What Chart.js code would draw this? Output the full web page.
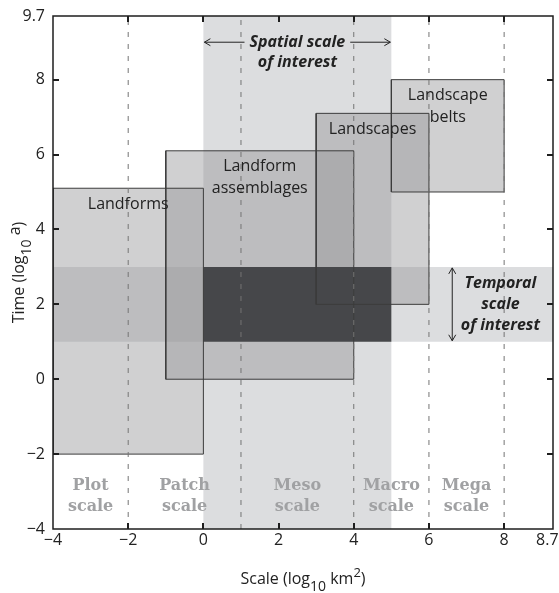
<!DOCTYPE html>
<html>
<head>
<meta charset="utf-8">
<script src="https://cdn.jsdelivr.net/npm/chart.js@4.4.1/dist/chart.umd.min.js"></script>
<style>
  html, body { margin: 0; padding: 0; background: #fff; }
  #chart { display: block; }
</style>
</head>
<body>
<canvas id="chart" width="559" height="593"></canvas>
<script>
// axis ranges and ticks
const xRange = [-4, 9.3];
const yRange = [-4, 9.7];
const xTickValues = [-4, -2, 0, 2, 4, 6, 8, 9.15];
const xTickLabels = ['−4', '−2', '0', '2', '4', '6', '8', '8.7'];
const yTickValues = [-4, -2, 0, 2, 4, 6, 8, 9.7];
const yTickLabels = ['−4', '−2', '0', '2', '4', '6', '8', '9.7'];

// landform boxes (log10 km2 x log10 a)
const boxLabels = [['Landforms'], ['Landform', 'assemblages'], ['Landscapes'], ['Landscape', 'belts']];
const boxXMin = [-4, -1, 3, 5];
const boxXMax = [0, 4, 6, 8];
const boxYMin = [-2, 0, 2, 5];
const boxYMax = [5.1, 6.1, 7.1, 8];

// scales of interest
const spatialInterest = [0, 5];
const temporalInterest = [1, 3];

// scale classes, split by the dashed lines
const classNames = ['Plot', 'Patch', 'Meso', 'Macro', 'Mega'];
const classBounds = [-4, -2, 1, 4, 6, 8];

const FONT = '"Open Sans", sans-serif';
const bandColor = '#dcdddf';
const boxFill = 'rgba(150,151,154,0.45)';
const darkColor = '#46474a';

function rect(x0, x1, y0, y1) {
  return [{x: x0, y: y0}, {x: x1, y: y0}, {x: x1, y: y1}, {x: x0, y: y1}, {x: x0, y: y0}];
}

// listed bottom layer first
const layers = [];
layers.push({ data: rect(spatialInterest[0], spatialInterest[1], yRange[0], yRange[1]), backgroundColor: bandColor, fill: 'shape', borderWidth: 0 });
layers.push({ data: rect(xRange[0], xRange[1], temporalInterest[0], temporalInterest[1]), backgroundColor: bandColor, fill: 'shape', borderWidth: 0 });
for (let i = 0; i < boxLabels.length; i++) {
  layers.push({ data: rect(boxXMin[i], boxXMax[i], boxYMin[i], boxYMax[i]), backgroundColor: boxFill, fill: 'shape', borderWidth: 0 });
}
layers.push({ data: rect(spatialInterest[0], spatialInterest[1], temporalInterest[0], temporalInterest[1]), backgroundColor: darkColor, fill: 'shape', borderWidth: 0 });
for (let i = 0; i < boxLabels.length; i++) {
  layers.push({ data: rect(boxXMin[i], boxXMax[i], boxYMin[i], boxYMax[i]), fill: false, borderColor: '#3c3c3c', borderWidth: 1 });
}
classBounds.slice(1).forEach(b => {
  layers.push({ data: [{x: b, y: yRange[0]}, {x: b, y: yRange[1]}], fill: false, borderColor: '#747474', borderWidth: 1, borderDash: [5, 7] });
});
layers.forEach((d, i) => {
  d.order = layers.length - i;
  d.showLine = true;
  d.pointRadius = 0;
  d.tension = 0;
  if (d.borderColor === undefined) d.borderColor = 'rgba(0,0,0,0)';
});

function richText(ctx, parts, cx, cy) {
  let w = 0;
  parts.forEach(p => { ctx.font = p.size + 'px ' + FONT; w += ctx.measureText(p.t).width; });
  let px = cx - w / 2;
  parts.forEach(p => {
    ctx.font = p.size + 'px ' + FONT;
    ctx.fillText(p.t, px, cy + (p.dy || 0));
    px += ctx.measureText(p.t).width;
  });
}

function arrowHead(ctx, tx, ty, dx, dy) {
  // dx,dy: unit direction of travel
  const len = 6, wid = 3.5;
  ctx.beginPath();
  ctx.moveTo(tx - dx * len - dy * wid, ty - dy * len + dx * wid);
  ctx.lineTo(tx, ty);
  ctx.lineTo(tx - dx * len + dy * wid, ty - dy * len - dx * wid);
  ctx.stroke();
}

const overlay = {
  id: 'overlay',
  afterDatasetsDraw(chart) {
    const { ctx, chartArea: a, scales: { x, y } } = chart;
    ctx.save();

    // frame and inward ticks
    ctx.strokeStyle = '#1e1e1e';
    ctx.lineWidth = 1.5;
    ctx.strokeRect(a.left, a.top, a.right - a.left, a.bottom - a.top);
    ctx.lineWidth = 2;
    ctx.beginPath();
    xTickValues.slice(1, 7).forEach(v => {
      const px = Math.round(x.getPixelForValue(v));
      ctx.moveTo(px, a.bottom); ctx.lineTo(px, a.bottom - 6);
      ctx.moveTo(px, a.top); ctx.lineTo(px, a.top + 6);
    });
    yTickValues.slice(1, 7).forEach(v => {
      const py = Math.round(y.getPixelForValue(v));
      ctx.moveTo(a.left, py); ctx.lineTo(a.left + 6, py);
      ctx.moveTo(a.right, py); ctx.lineTo(a.right - 6, py);
    });
    ctx.stroke();

    // box labels
    ctx.fillStyle = '#222';
    ctx.font = '16px ' + FONT;
    ctx.textAlign = 'center';
    ctx.textBaseline = 'middle';
    boxLabels.forEach((lines, i) => {
      const cx = x.getPixelForValue((boxXMin[i] + boxXMax[i]) / 2);
      const top = y.getPixelForValue(boxYMax[i]);
      lines.forEach((t, k) => ctx.fillText(t, cx, top + 16 + k * 22));
    });

    // spatial scale of interest
    ctx.font = 'italic bold 16px ' + FONT;
    const sx = x.getPixelForValue((spatialInterest[0] + spatialInterest[1]) / 2);
    const sy1 = y.getPixelForValue(9.0), sy2 = y.getPixelForValue(8.46);
    ctx.fillText('Spatial scale', sx, sy1);
    ctx.fillText('of interest', sx, sy2);
    const sw = ctx.measureText('Spatial scale').width;
    const l0 = x.getPixelForValue(spatialInterest[0]) + 1, r0 = x.getPixelForValue(spatialInterest[1]) - 1;
    ctx.lineWidth = 1;
    ctx.strokeStyle = '#222';
    ctx.beginPath();
    ctx.moveTo(l0, sy1); ctx.lineTo(sx - sw / 2 - 5, sy1);
    ctx.moveTo(sx + sw / 2 + 5, sy1); ctx.lineTo(r0, sy1);
    ctx.stroke();
    arrowHead(ctx, l0, sy1, -1, 0);
    arrowHead(ctx, r0, sy1, 1, 0);

    // temporal scale of interest
    const tcx = x.getPixelForValue(7.9);
    const tcy = y.getPixelForValue((temporalInterest[0] + temporalInterest[1]) / 2);
    ['Temporal', 'scale', 'of interest'].forEach((t, k) => ctx.fillText(t, tcx, tcy + (k - 1) * 21));
    const ax = x.getPixelForValue(6.62);
    const ay0 = y.getPixelForValue(temporalInterest[1]) + 1, ay1 = y.getPixelForValue(temporalInterest[0]) - 1;
    ctx.beginPath();
    ctx.moveTo(ax, ay0); ctx.lineTo(ax, ay1);
    ctx.stroke();
    arrowHead(ctx, ax, ay0, 0, -1);
    arrowHead(ctx, ax, ay1, 0, 1);

    // scale class names
    ctx.fillStyle = '#a0a1a3';
    ctx.font = 'bold 16px "DejaVu Serif", serif';
    const cy = y.getPixelForValue(-3.14);
    classNames.forEach((n, i) => {
      const cx = x.getPixelForValue((classBounds[i] + classBounds[i + 1]) / 2);
      ctx.fillText(n, cx, cy - 10.5);
      ctx.fillText('scale', cx, cy + 10.5);
    });

    // axis titles
    ctx.fillStyle = '#222';
    ctx.textAlign = 'left';
    ctx.textBaseline = 'alphabetic';
    richText(ctx, [
      {t: 'Scale (log', size: 16}, {t: '10', size: 14, dy: 7}, {t: ' km', size: 16},
      {t: '2', size: 13, dy: -7}, {t: ')', size: 16}
    ], (a.left + a.right) / 2, 584);
    ctx.save();
    ctx.translate(24, (a.top + a.bottom) / 2);
    ctx.rotate(-Math.PI / 2);
    richText(ctx, [
      {t: 'Time (log', size: 16}, {t: '10', size: 14, dy: 7}, {t: ' a', size: 16, dy: -4}, {t: ')', size: 16}
    ], 0, 0);
    ctx.restore();

    ctx.restore();
  }
};

new Chart(document.getElementById('chart'), {
  type: 'scatter',
  data: { datasets: layers },
  plugins: [overlay],
  options: {
    responsive: false,
    animation: false,
    layout: { padding: { top: 16, right: 6, left: 0, bottom: 0 } },
    plugins: { legend: { display: false }, tooltip: { enabled: false } },
    scales: {
      x: {
        type: 'linear', min: xRange[0], max: xRange[1],
        grid: { display: false, drawTicks: false },
        border: { display: false },
        afterBuildTicks: s => { s.ticks = xTickValues.map(v => ({ value: v })); },
        afterFit: s => { s.height = 64; s.paddingLeft = 0; s.paddingRight = 0; },
        ticks: {
          autoSkip: false, maxRotation: 0, padding: 2, color: '#222',
          font: { family: FONT, size: 16 },
          callback: (v, i) => xTickLabels[i]
        }
      },
      y: {
        type: 'linear', min: yRange[0], max: yRange[1],
        grid: { display: false, drawTicks: false },
        border: { display: false },
        afterBuildTicks: s => { s.ticks = yTickValues.map(v => ({ value: v })); },
        afterFit: s => { s.width = 53; s.paddingTop = 0; s.paddingBottom = 0; },
        ticks: {
          autoSkip: false, padding: 8, color: '#222',
          font: { family: FONT, size: 16 },
          callback: (v, i) => yTickLabels[i]
        }
      }
    }
  }
});
</script>
</body>
</html>
